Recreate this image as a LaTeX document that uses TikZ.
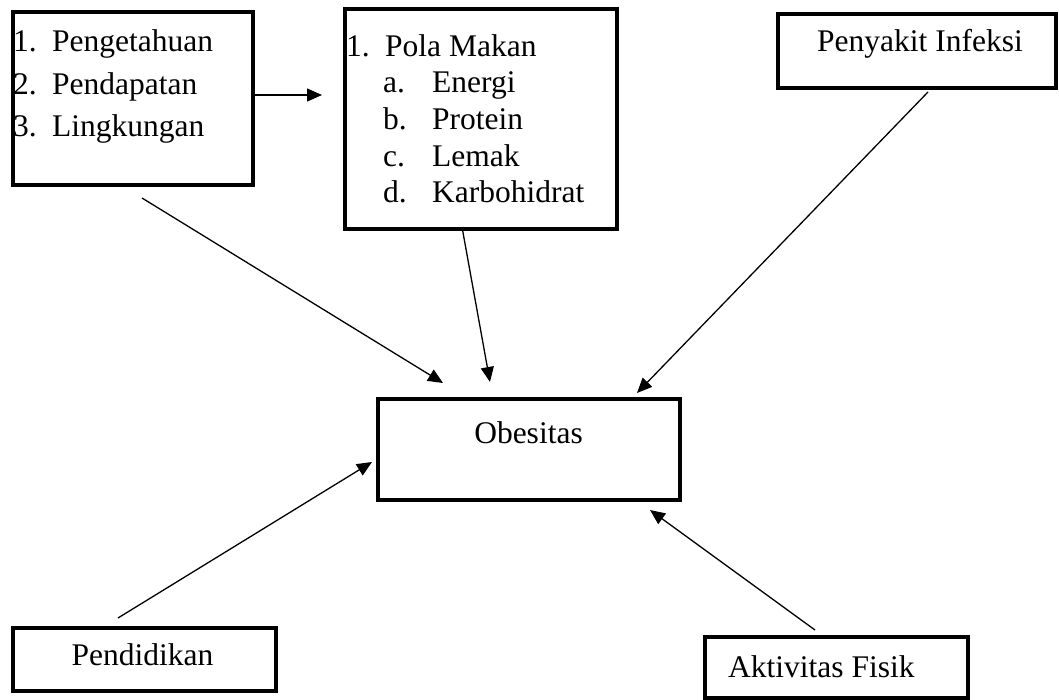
\documentclass[tikz,border=0pt]{standalone}
\usepackage{fontspec}
\setmainfont{Liberation Serif}
\usetikzlibrary{arrows.meta}
\begin{document}
\begin{tikzpicture}[x=1pt,y=-1pt,
  box/.style={draw, line width=4pt, inner sep=0pt, outer sep=0pt},
  txt/.style={inner sep=0pt, font=\fontsize{31.5}{37}\selectfont, anchor=base west},
  ctxt/.style={txt, anchor=base},
  arr/.style={line width=1.3pt, -{Triangle[length=15pt,width=13pt]}}]
\useasboundingbox (0,0) rectangle (1059,700);
% boxes
\node[box, minimum width=240pt, minimum height=173pt] (b1) at (132.5,98.5) {};
\node[box, minimum width=272pt, minimum height=220pt] (b2) at (481,119.5) {};
\node[box, minimum width=278.5pt, minimum height=74.5pt] (b3) at (916.75,51.25) {};
\node[box, minimum width=301.5pt, minimum height=101.5pt] (ob) at (528.75,449.25) {};
\node[box, minimum width=263pt, minimum height=63pt] (b4) at (144,659) {};
\node[box, minimum width=263pt, minimum height=61.5pt] (b5) at (836.5,667.25) {};
% texts box 1
\node[txt] (n11) at (13,52) {1.};
\node[txt] (t11) at (52,52) {Pengetahuan};
\node[txt] (n12) at (13,94.5) {2.};
\node[txt] (t12) at (52,94.5) {Pendapatan};
\node[txt] (n13) at (13,137) {3.};
\node[txt] (t13) at (52,137) {Lingkungan};
% texts box 2
\node[txt] (n21) at (346,57) {1.};
\node[txt] (t21) at (385,57) {Pola Makan};
\node[txt] (na) at (383,93) {a.};
\node[txt] (ta) at (432,93) {Energi};
\node[txt] (nb) at (383,130) {b.};
\node[txt] (tb) at (432,130) {Protein};
\node[txt] (nc) at (383,167) {c.};
\node[txt] (tc) at (432,167) {Lemak};
\node[txt] (nd) at (383,203) {d.};
\node[txt] (td) at (432,203) {Karbohidrat};
% other texts
\node[ctxt] (t3) at (920,52) {Penyakit Infeksi};
\node[ctxt] (tob) at (528.5,443) {Obesitas};
\node[ctxt] (t4) at (142.5,665) {Pendidikan};
\node[txt] (t5) at (728,677) {Aktivitas Fisik};
% connector end points
\coordinate (a1s) at (142,198);  \coordinate (a1e) at (443,383);
\coordinate (a2s) at (462,227);  \coordinate (a2e) at (490,382);
\coordinate (a3s) at (928,92);   \coordinate (a3e) at (637,393);
\coordinate (a4s) at (118,618);  \coordinate (a4e) at (372,462);
\coordinate (a5s) at (815,630);  \coordinate (a5e) at (650,510);
\coordinate (a6s) at (255,95);   \coordinate (a6e) at (322,95);
\draw[arr] (a1s) -- (a1e);
\draw[arr] (a2s) -- (a2e);
\draw[arr] (a3s) -- (a3e);
\draw[arr] (a4s) -- (a4e);
\draw[arr] (a5s) -- (a5e);
\draw[arr] (a6s) -- (a6e);
\end{tikzpicture}
\end{document}
